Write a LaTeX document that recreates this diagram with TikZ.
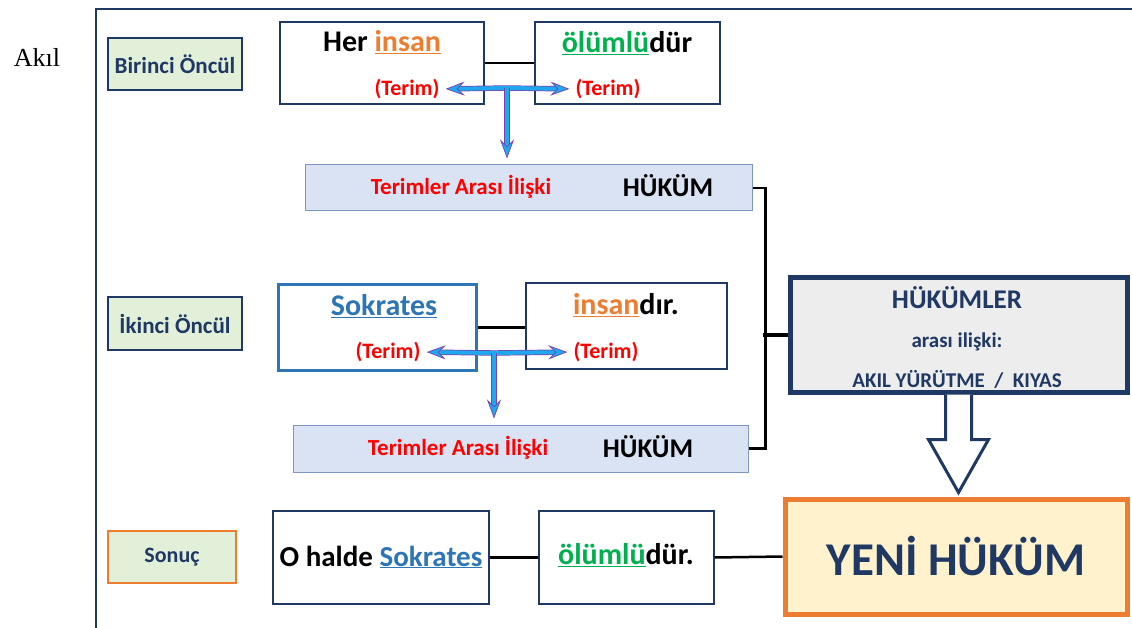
\documentclass[tikz,border=0pt]{standalone}
\usepackage{fontspec}
\setmainfont{Carlito}
\newfontfamily\akilfont{Liberation Serif}
\usetikzlibrary{arrows.meta,calc}
\definecolor{navy}{HTML}{1F3864}
\definecolor{lgreen}{HTML}{E2F0D9}
\definecolor{lblue}{HTML}{DAE3F3}
\definecolor{relblue}{HTML}{7F96C4}
\definecolor{skyblue}{HTML}{2E75B6}
\definecolor{orng}{HTML}{ED7D31}
\definecolor{grn}{HTML}{00B050}
\definecolor{lgray}{HTML}{EDEDED}
\definecolor{lyellow}{HTML}{FFF2CC}
\definecolor{arrcyan}{HTML}{1FA8EE}
\definecolor{arrviolet}{HTML}{7B3FB0}
\newcommand{\ulword}[2]{\textcolor{#1}{\underline{#2}}}
\newcommand{\fsz}[1]{\bfseries\fontsize{#1}{#1}\selectfont}
\tikzset{
  labelbox/.style={draw=navy, line width=2pt, fill=lgreen, minimum width=134pt, minimum height=52pt, inner sep=0},
  wordbox/.style={draw=navy, line width=1.5pt, fill=white, inner sep=0},
  relbox/.style={draw=relblue, line width=1pt, fill=lblue, inner sep=0},
  txt/.style={inner sep=0, font=\fsz{#1}},
  link/.style={black, line width=2.5pt},
  termarrow/.style={draw=arrviolet, line width=0.7pt, double=arrcyan, double distance=4pt, shorten >=6pt,
    -{Stealth[length=19pt, width=14pt, inset=7pt, fill=arrcyan, line width=0.7pt]}},
  hollowarrow/.style={draw=navy, line width=3pt, fill=white, line join=miter}
}
\begin{document}
\begin{tikzpicture}[x=1pt, y=-1pt]
\useasboundingbox (0,0) rectangle (1132,628);
\node[inner sep=0, font=\akilfont\fontsize{26}{26}\selectfont] (akil) at (37,57) {Akıl};
\draw[navy, line width=2pt] (96,628) -- (96,9) -- (1132,9);
% birinci oncul
\node[labelbox] (birinci) at (175,64) {};
\node[txt=23, navy] (birinciTxt) at (birinci) {Birinci Öncül};
\node[wordbox, minimum width=204pt, minimum height=82pt] (her) at (382,63) {};
\node[wordbox, minimum width=185pt, minimum height=82pt] (olum1) at (627.5,63) {};
\draw[link] (her.east) -- (olum1.west);
\node[txt=30] (herTxt) at (382,42) {Her \ulword{orng}{insan}};
\node[txt=30] (olum1Txt) at (627,43) {\ulword{grn}{ölümlü}dür};
\node[txt=22, red] (term1) at (407,89) {(Terim)};
\node[txt=22, red] (term2) at (608,89) {(Terim)};
\node[relbox, minimum width=447pt, minimum height=46pt] (rel1) at (528.5,188) {};
\node[txt=23, red] (rel1Txt) at (461,187) {Terimler Arası İlişki};
\node[txt=27] (hukum1) at (668,186) {HÜKÜM};
\coordinate (j1) at (507,88);
\draw[termarrow] (j1) -- (term1.east);
\draw[termarrow] (j1) -- (term2.west);
\draw[termarrow] (j1) -- (rel1.north -| j1);
% ikinci oncul
\node[labelbox, minimum height=53pt] (ikinci) at (175,323.5) {};
\node[txt=23, navy] (ikinciTxt) at (ikinci) {İkinci Öncül};
\node[wordbox, draw=skyblue, line width=3pt, minimum width=198pt, minimum height=85pt] (sok) at (377,327.5) {};
\node[wordbox, minimum width=201pt, minimum height=86pt] (insan) at (626.5,326) {};
\draw[link] (sok.east) -- (sok.east -| insan.west);
\node[txt=30] (sokTxt) at (384,306) {\ulword{skyblue}{Sokrates}};
\node[txt=30] (insanTxt) at (626,305) {\ulword{orng}{insan}dır.};
\node[txt=22, red] (term3) at (388,352) {(Terim)};
\node[txt=22, red] (term4) at (606,352) {(Terim)};
\node[relbox, minimum width=455pt, minimum height=47pt] (rel2) at (520.5,448.5) {};
\node[txt=23, red] (rel2Txt) at (458,448) {Terimler Arası İlişki};
\node[txt=27] (hukum2) at (648,447) {HÜKÜM};
\coordinate (j2) at (494,353);
\draw[termarrow] (j2) -- (term3.east);
\draw[termarrow] (j2) -- (term4.west);
\draw[termarrow] (j2) -- (rel2.north -| j2);
% hukumler
\node[wordbox, draw=navy, line width=5pt, fill=lgray, minimum width=337pt, minimum height=114pt] (hk) at (958.5,335) {};
\node[txt=27, navy] (hkTxt) at (957,298) {HÜKÜMLER};
\node[txt=21, navy] (hkSub) at (957,342) {arası ilişki:};
\node[txt=21, navy] (hkKiyas) at (957,379) {AKIL YÜRÜTME~~/~~KIYAS};
\draw[link] (rel1.east) -- ++(13,0) |- (rel2.east);
\draw[link, line width=4pt] (hk.west) -- ++(-25,0);
% sonuc
\node[labelbox, draw=orng, minimum width=128pt] (sonuc) at (172,557) {};
\node[txt=22, navy] (sonucTxt) at (sonuc) {Sonuç};
\node[wordbox, minimum width=216pt, minimum height=93pt] (ohalde) at (381,557.5) {};
\node[wordbox, minimum width=175pt, minimum height=93pt] (olum2) at (626.5,557.5) {};
\node[wordbox, draw=orng, line width=5pt, fill=lyellow, minimum width=342pt, minimum height=115pt] (yeni) at (956,556.5) {};
\draw[link] (ohalde.east) -- (olum2.west);
\draw[link] (olum2.east) -- (yeni.west);
\node[txt=29] (ohaldeTxt) at (381,557) {O halde \ulword{skyblue}{Sokrates}};
\node[txt=30] (olum2Txt) at (626,555) {\ulword{grn}{ölümlü}dür.};
\node[txt=47, navy] (yeniTxt) at (yeni) {YENİ HÜKÜM};
\draw[hollowarrow] (hk.south) ++(-13,0) -- ++(0,45) -- ++(-17,0) -- ++(30,53) -- ++(30,-53) -- ++(-17,0) -- ++(0,-45);
\end{tikzpicture}
\end{document}
